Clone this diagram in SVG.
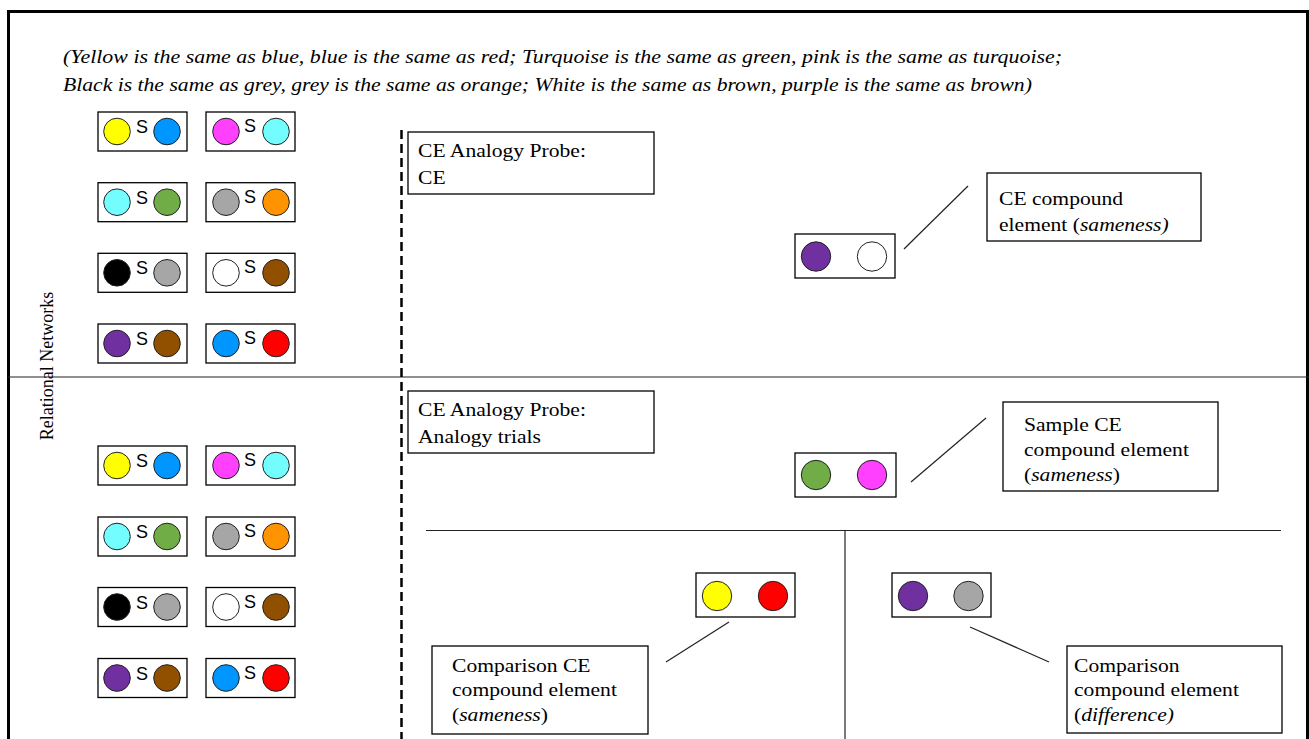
<svg xmlns="http://www.w3.org/2000/svg" width="1309" height="739" viewBox="0 0 1309 739">
<style>
.bx{fill:#fff;stroke:#000;stroke-width:1.3}
.c{stroke:#222;stroke-width:1}
.s{font-family:"Liberation Sans",Arial,sans-serif;font-size:18px;fill:#000;text-anchor:middle}
.t{font-family:"Liberation Serif","Times New Roman",serif;font-size:18px;fill:#000}
.lg{font-size:19px;font-style:italic}
.ln{stroke:#222;stroke-width:1.2;fill:none}
.y{fill:#FFFF00}.b{fill:#0096FF}.m{fill:#FF40FF}.cy{fill:#73FDFF}.g{fill:#70AD47}.gr{fill:#A6A6A6}.o{fill:#FF9300}.k{fill:#000}.w{fill:#fff}.br{fill:#915000}.p{fill:#7030A0}.r{fill:#FF0000}
</style>
<rect x="0" y="0" width="1309" height="739" fill="#fff"/>
<rect x="8.5" y="11.5" width="1299" height="760" fill="none" stroke="#000" stroke-width="3"/>
<g id="legend">
<text class="t lg" transform="translate(63,63) scale(1.153,1)">(Yellow is the same as blue, blue is the same as red; Turquoise is the same as green, pink is the same as turquoise;</text>
<text class="t lg" transform="translate(63,91) scale(1.14,1)">Black is the same as grey, grey is the same as orange; White is the same as brown, purple is the same as brown)</text>
</g>
<g id="side-label">
<text class="t" transform="translate(53,366) rotate(-90)" text-anchor="middle">Relational Networks</text>
</g>
<g id="connectors">
<line class="ln" x1="8" y1="377" x2="1309" y2="377"/>
<line x1="401.5" y1="130" x2="401.5" y2="739" stroke="#000" stroke-width="2.5" stroke-dasharray="9,5"/>
<line class="ln" x1="426" y1="530.5" x2="1281" y2="530.5"/>
<line class="ln" x1="845" y1="530.5" x2="845" y2="739"/>
<line class="ln" x1="904" y1="249" x2="968" y2="186"/>
<line class="ln" x1="911" y1="482" x2="986" y2="418"/>
<line class="ln" x1="729" y1="622" x2="666" y2="662"/>
<line class="ln" x1="970" y1="627" x2="1049" y2="662"/>
</g>
<!-- top network set -->
<g id="n1-ys-b" transform="translate(98,112)"><rect class="bx" width="89" height="39"/><circle class="c y" cx="19" cy="19.5" r="13.3"/><text class="s" x="44" y="21">S</text><circle class="c b" cx="69" cy="19.5" r="13.3"/></g>
<g id="n1-ms-c" transform="translate(206,112)"><rect class="bx" width="89" height="39"/><circle class="c m" cx="20" cy="19.5" r="13.3"/><text class="s" x="44" y="20">S</text><circle class="c cy" cx="70" cy="19.5" r="13.3"/></g>
<g id="n1-cs-g" transform="translate(98,182.7)"><rect class="bx" width="89" height="39"/><circle class="c cy" cx="19" cy="19.5" r="13.3"/><text class="s" x="44" y="21">S</text><circle class="c g" cx="69" cy="19.5" r="13.3"/></g>
<g id="n1-gs-o" transform="translate(206,182.7)"><rect class="bx" width="89" height="39"/><circle class="c gr" cx="20" cy="19.5" r="13.3"/><text class="s" x="44" y="20">S</text><circle class="c o" cx="70" cy="19.5" r="13.3"/></g>
<g id="n1-ks-g" transform="translate(98,253.3)"><rect class="bx" width="89" height="39"/><circle class="c k" cx="19" cy="19.5" r="13.3"/><text class="s" x="44" y="21">S</text><circle class="c gr" cx="69" cy="19.5" r="13.3"/></g>
<g id="n1-ws-br" transform="translate(206,253.3)"><rect class="bx" width="89" height="39"/><circle class="c w" cx="20" cy="19.5" r="13.3"/><text class="s" x="44" y="20">S</text><circle class="c br" cx="70" cy="19.5" r="13.3"/></g>
<g id="n1-ps-br" transform="translate(98,324)"><rect class="bx" width="89" height="39"/><circle class="c p" cx="19" cy="19.5" r="13.3"/><text class="s" x="44" y="21">S</text><circle class="c br" cx="69" cy="19.5" r="13.3"/></g>
<g id="n1-bs-r" transform="translate(206,324)"><rect class="bx" width="89" height="39"/><circle class="c b" cx="20" cy="19.5" r="13.3"/><text class="s" x="44" y="20">S</text><circle class="c r" cx="70" cy="19.5" r="13.3"/></g>
<!-- bottom network set -->
<g id="n2-ys-b" transform="translate(98,446)"><rect class="bx" width="89" height="39"/><circle class="c y" cx="19" cy="19.5" r="13.3"/><text class="s" x="44" y="21">S</text><circle class="c b" cx="69" cy="19.5" r="13.3"/></g>
<g id="n2-ms-c" transform="translate(206,446)"><rect class="bx" width="89" height="39"/><circle class="c m" cx="20" cy="19.5" r="13.3"/><text class="s" x="44" y="20">S</text><circle class="c cy" cx="70" cy="19.5" r="13.3"/></g>
<g id="n2-cs-g" transform="translate(98,517)"><rect class="bx" width="89" height="39"/><circle class="c cy" cx="19" cy="19.5" r="13.3"/><text class="s" x="44" y="21">S</text><circle class="c g" cx="69" cy="19.5" r="13.3"/></g>
<g id="n2-gs-o" transform="translate(206,517)"><rect class="bx" width="89" height="39"/><circle class="c gr" cx="20" cy="19.5" r="13.3"/><text class="s" x="44" y="20">S</text><circle class="c o" cx="70" cy="19.5" r="13.3"/></g>
<g id="n2-ks-g" transform="translate(98,587.5)"><rect class="bx" width="89" height="39"/><circle class="c k" cx="19" cy="19.5" r="13.3"/><text class="s" x="44" y="21">S</text><circle class="c gr" cx="69" cy="19.5" r="13.3"/></g>
<g id="n2-ws-br" transform="translate(206,587.5)"><rect class="bx" width="89" height="39"/><circle class="c w" cx="20" cy="19.5" r="13.3"/><text class="s" x="44" y="20">S</text><circle class="c br" cx="70" cy="19.5" r="13.3"/></g>
<g id="n2-ps-br" transform="translate(98,658.5)"><rect class="bx" width="89" height="39"/><circle class="c p" cx="19" cy="19.5" r="13.3"/><text class="s" x="44" y="21">S</text><circle class="c br" cx="69" cy="19.5" r="13.3"/></g>
<g id="n2-bs-r" transform="translate(206,658.5)"><rect class="bx" width="89" height="39"/><circle class="c b" cx="20" cy="19.5" r="13.3"/><text class="s" x="44" y="20">S</text><circle class="c r" cx="70" cy="19.5" r="13.3"/></g>
<!-- probe labels -->
<g id="probe-ce"><rect class="bx" x="408" y="132" width="246" height="62"/><text class="t" transform="translate(418,157) scale(1.2,1)">CE Analogy Probe:</text><text class="t" transform="translate(418,184) scale(1.2,1)">CE</text></g>
<g id="probe-analogy"><rect class="bx" x="408" y="391" width="246" height="62"/><text class="t" transform="translate(418,416) scale(1.2,1)">CE Analogy Probe:</text><text class="t" transform="translate(418,443) scale(1.2,1)">Analogy trials</text></g>
<!-- compound elements -->
<g id="ce-purple-white"><rect class="bx" x="795" y="234" width="100" height="44"/><circle class="c p" cx="816" cy="256.5" r="14.7"/><circle class="c w" cx="872" cy="256.5" r="14.7"/></g>
<g id="ce-label"><rect class="bx" x="987" y="173" width="214" height="68"/><text class="t" transform="translate(999,205) scale(1.2,1)">CE compound</text><text class="t" transform="translate(999,231) scale(1.2,1)">element (<tspan font-style="italic">sameness)</tspan></text></g>
<g id="sample-green-pink"><rect class="bx" x="795" y="453" width="101" height="44"/><circle class="c g" cx="816" cy="475" r="14.7"/><circle class="c m" cx="872" cy="475" r="14.7"/></g>
<g id="sample-label"><rect class="bx" x="1003" y="402" width="215" height="89"/><text class="t" transform="translate(1024,431) scale(1.2,1)">Sample CE</text><text class="t" transform="translate(1024,456) scale(1.2,1)">compound element</text><text class="t" transform="translate(1024,481) scale(1.2,1)">(<tspan font-style="italic">sameness</tspan>)</text></g>
<g id="comp-yellow-red"><rect class="bx" x="696" y="573" width="99" height="44"/><circle class="c y" cx="717" cy="596" r="14.7"/><circle class="c r" cx="773" cy="596" r="14.7"/></g>
<g id="comp-ce-label"><rect class="bx" x="432" y="646" width="216" height="88"/><text class="t" transform="translate(452,672) scale(1.2,1)">Comparison CE</text><text class="t" transform="translate(452,696) scale(1.2,1)">compound element</text><text class="t" transform="translate(452,721) scale(1.2,1)">(<tspan font-style="italic">sameness</tspan>)</text></g>
<g id="comp-purple-grey"><rect class="bx" x="892" y="573" width="99" height="44"/><circle class="c p" cx="913" cy="596" r="14.7"/><circle class="c gr" cx="968.5" cy="596" r="14.7"/></g>
<g id="comp-diff-label"><rect class="bx" x="1067" y="646" width="215" height="87"/><text class="t" transform="translate(1074,672) scale(1.2,1)">Comparison</text><text class="t" transform="translate(1074,696) scale(1.2,1)">compound element</text><text class="t" transform="translate(1074,721) scale(1.2,1)">(<tspan font-style="italic">difference)</tspan></text></g>
</svg>
